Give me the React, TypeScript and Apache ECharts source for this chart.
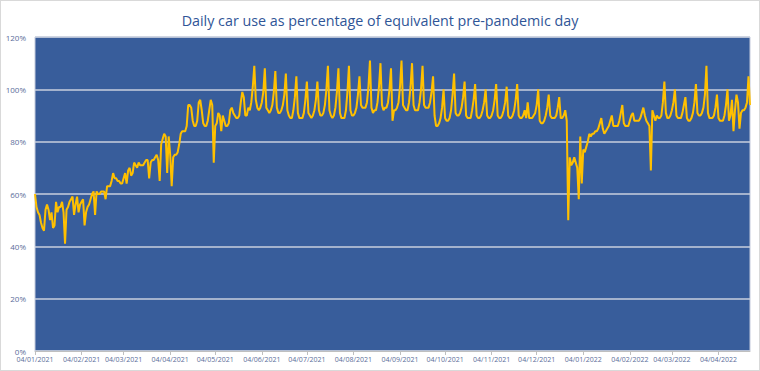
import React, { useEffect, useRef } from "react";
import * as echarts from "echarts";

const chartTitle = "Daily car use as percentage of equivalent pre-pandemic day";
const firstDay = { year: 2021, month: 0, day: 4 };

// Daily values (%), one row per week Mon..Sun, starting Monday 04/01/2021
const carUse: number[] = [
  60, 55, 53, 52, 49, 47, 46,
  54, 56, 54, 50, 53, 47, 48,
  57, 53, 55, 55, 57, 53, 41,
  54, 55, 57, 58, 59, 52, 56,
  59, 53, 56, 57, 58, 48, 53,
  55, 56, 58, 60, 61, 52, 61,
  60, 60, 61, 61, 61, 58, 63,
  63, 63, 65, 68, 66, 66, 65,
  65, 64, 64, 66, 68, 64, 69,
  70, 67, 68, 72, 71, 70, 72,
  71, 71, 71, 72, 73, 73, 66,
  72, 73, 73, 74, 75, 73, 65,
  79, 81, 83, 82, 68, 82, 75,
  63, 74, 75, 75, 76, 79, 83,
  84, 84, 84, 86, 94, 94, 93,
  88, 86, 86, 88, 95, 96, 92,
  87, 86, 86, 88, 92, 96, 94,
  72, 86, 87, 91, 90, 84, 90,
  88, 86, 86, 87, 92, 93, 91,
  90, 89, 89, 90, 95, 99, 97,
  90, 90, 93, 92, 95, 101, 109,
  96, 93, 92, 93, 95, 99, 108,
  93, 92, 91, 92, 94, 99, 107,
  93, 91, 91, 92, 94, 98, 106,
  92, 90, 89, 89, 92, 97, 105,
  91, 89, 89, 89, 91, 96, 103,
  91, 90, 89, 90, 92, 96, 103,
  92, 90, 90, 91, 94, 100, 109,
  92, 90, 89, 90, 93, 99, 108,
  91, 89, 89, 89, 92, 99, 109,
  92, 90, 90, 91, 93, 98, 105,
  94, 93, 93, 93, 95, 101, 111,
  93, 91, 92, 92, 95, 101, 110,
  94, 92, 93, 93, 95, 100, 108,
  88, 92, 92, 93, 95, 101, 111,
  94, 93, 92, 92, 95, 101, 110,
  94, 92, 92, 92, 95, 100, 109,
  94, 93, 93, 93, 95, 99, 105,
  90, 86, 86, 87, 89, 93, 100,
  89, 88, 88, 89, 92, 98, 106,
  91, 90, 90, 91, 93, 97, 103,
  90, 89, 89, 89, 92, 96, 102,
  90, 89, 89, 90, 92, 95, 100,
  90, 89, 89, 90, 92, 96, 102,
  90, 89, 89, 90, 92, 95, 101,
  90, 89, 89, 90, 92, 96, 102,
  90, 89, 89, 90, 92, 89, 95,
  89, 89, 89, 90, 91, 94, 100,
  88, 87, 87, 88, 90, 93, 98,
  90, 89, 89, 89, 90, 93, 97,
  89, 89, 90, 92, 88, 50, 74,
  71, 72, 74, 72, 70, 58, 82,
  64, 77, 76, 78, 80, 83, 82,
  83, 83, 84, 84, 85, 87, 89,
  85, 83, 84, 85, 86, 88, 90,
  86, 86, 86, 86, 88, 91, 94,
  87, 86, 86, 86, 88, 90, 91,
  88, 88, 88, 88, 89, 91, 93,
  90, 88, 87, 86, 69, 92, 90,
  88, 90, 89, 89, 90, 95, 103,
  91, 89, 89, 90, 92, 95, 100,
  90, 89, 89, 89, 91, 94, 97,
  89, 88, 88, 89, 91, 95, 102,
  91, 90, 90, 91, 93, 98, 109,
  91, 89, 89, 89, 90, 93, 98,
  89, 88, 88, 88, 90, 94, 100,
  88, 90, 96, 84, 92, 98, 95,
  85, 91, 92, 92, 93, 95, 105,
  94,
];

const yMin = 0;
const yMax = 120;
const yStep = 20;

function pad(n: number): string {
  return n < 10 ? "0" + n : String(n);
}

function buildDates(count: number): string[] {
  const out: string[] = [];
  for (let i = 0; i < count; i++) {
    const d = new Date(Date.UTC(firstDay.year, firstDay.month, firstDay.day + i));
    out.push(pad(d.getUTCDate()) + "/" + pad(d.getUTCMonth() + 1) + "/" + d.getUTCFullYear());
  }
  return out;
}

const dates = buildDates(carUse.length);

const isMonthTick = (_index: number, value: string) => value.slice(0, 2) === "04";

export default function App() {
  const ref = useRef<HTMLDivElement>(null);

  useEffect(() => {
    document.body.style.margin = "0";
    if (!ref.current) return;
    const chart = echarts.init(ref.current, undefined, { renderer: "svg" });
    const labelColor = "#5A6D9A";
    chart.setOption({
      animation: false,
      backgroundColor: "#ffffff",
      title: {
        text: chartTitle,
        left: "center",
        top: 8,
        textStyle: {
          fontFamily: "Open Sans",
          fontSize: 14.3,
          fontWeight: "normal",
          color: "#2F5597",
        },
      },
      grid: {
        left: 35,
        right: 10,
        top: 37,
        bottom: 20,
        show: true,
        backgroundColor: "#385D9B",
        borderColor: "#C3CADB",
        borderWidth: 1,
      },
      xAxis: {
        type: "category",
        data: dates,
        boundaryGap: false,
        axisLine: { show: true, lineStyle: { color: "#BFBFBF" } },
        axisTick: { show: true, interval: isMonthTick, length: 4, lineStyle: { color: "#BFBFBF" } },
        axisLabel: {
          interval: isMonthTick,
          fontFamily: "Open Sans",
          fontSize: 7,
          color: labelColor,
          margin: 5,
        },
        splitLine: { show: false },
      },
      yAxis: {
        type: "value",
        min: yMin,
        max: yMax,
        interval: yStep,
        axisLine: { show: false },
        axisTick: { show: false },
        axisLabel: {
          formatter: "{value}%",
          fontFamily: "Open Sans",
          fontSize: 8,
          color: labelColor,
          margin: 9,
        },
        splitLine: { show: true, lineStyle: { color: "#C8CFDE", width: 1.5 } },
      },
      series: [
        {
          type: "line",
          data: carUse,
          symbol: "none",
          showSymbol: false,
          lineStyle: { color: "#FFC000", width: 2 },
          itemStyle: { color: "#FFC000" },
        },
      ],
    });
    return () => chart.dispose();
  }, []);

  return (
    <div style={{ position: "absolute", left: 0, top: 0, width: 760, height: 371 }}>
      <div ref={ref} style={{ width: 760, height: 371 }} />
      <div
        style={{
          position: "absolute",
          left: 0,
          top: 0,
          width: 760,
          height: 371,
          boxSizing: "border-box",
          border: "1px solid #D9D9D9",
          pointerEvents: "none",
        }}
      />
    </div>
  );
}
